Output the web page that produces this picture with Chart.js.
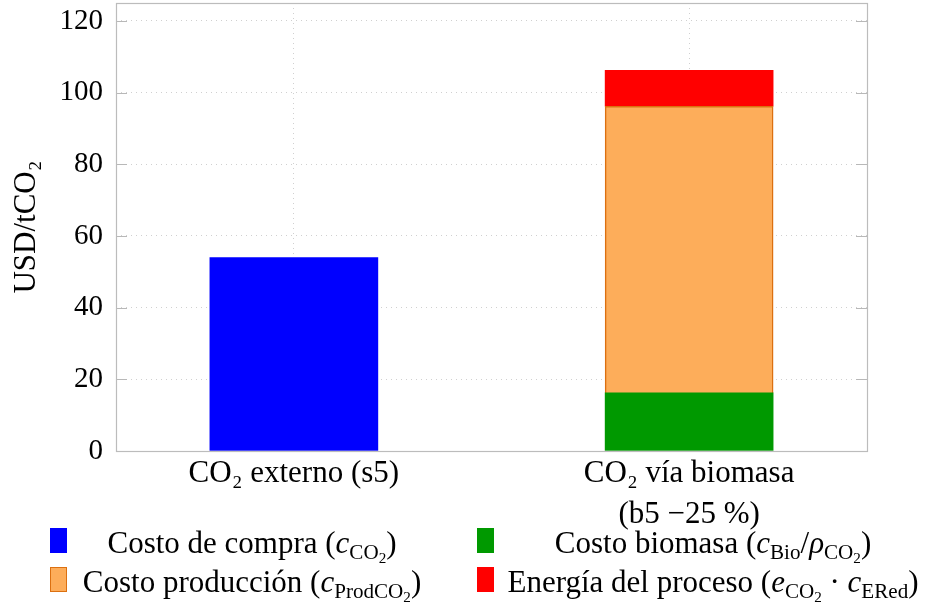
<!DOCTYPE html>
<html>
<head>
<meta charset="utf-8">
<script src="https://cdn.jsdelivr.net/npm/chart.js@4/dist/chart.umd.min.js"></script>
<style>
  html, body { margin: 0; padding: 0; background: #ffffff; }
  #wrap { position: relative; width: 930px; height: 610px; }
  #legend {
    position: absolute; left: 0; top: 525px; width: 930px;
    font-family: 'Liberation Serif', 'DejaVu Serif', serif; font-size: 31px; color: #000;
  }
  .item { position: absolute; left: 0; height: 36px; }
  .sw { position: absolute; top: 3px; width: 17px; height: 25px; box-sizing: border-box; }
  .txt { position: absolute; top: 0; text-align: center; white-space: nowrap; line-height: 36px; }
  .txt sub { font-size: 68%; vertical-align: -0.28em; line-height: 0; }
  .txt sub sub { font-size: 72%; vertical-align: -0.25em; }
</style>
</head>
<body>
<div id="wrap">
  <canvas id="chart" width="930" height="610"></canvas>
  <div id="legend"></div>
</div>
<script>
// Categories (x positions 0 and 1) and their tick labels
const categories = [["CO₂ externo (s5)"], ["CO₂ vía biomasa", "(b5 −25 %)"]];

// Cost components in USD/tCO2, one value per category (null = not present)
const compraValues     = [54, null];
const biomasaValues    = [null, 16.2];
const produccionValues = [null, 80];
const energiaValues    = [null, 10];

// Series names (plain for the dataset label, HTML for the legend)
const seriesNames = [
  "Costo de compra (cCO₂)",
  "Costo biomasa (cBio/ρCO₂)",
  "Costo producción (cProdCO₂)",
  "Energía del proceso (eCO₂ · cERed)"
];
const seriesLegendHtml = [
  "Costo de compra (<i>c</i><sub>CO<sub>2</sub></sub>)",
  "Costo biomasa (<i>c</i><sub>Bio</sub>/<i>ρ</i><sub>CO<sub>2</sub></sub>)",
  "Costo producción (<i>c</i><sub>ProdCO<sub>2</sub></sub>)",
  "Energía del proceso (<i>e</i><sub>CO<sub>2</sub></sub> · <i>c</i><sub>ERed</sub>)"
];

const yTicks = [0, 20, 40, 60, 80, 100, 120];

const FONT = "'Liberation Serif', 'DejaVu Serif', serif";

function toPoints(values) {
  return values.map((v, i) => (v === null ? null : { x: i, y: v })).filter(p => p !== null);
}

const datasets = [
  { label: seriesNames[0], data: toPoints(compraValues),
    backgroundColor: '#0000ff', borderColor: '#0000ff', borderWidth: 0 },
  { label: seriesNames[1], data: toPoints(biomasaValues),
    backgroundColor: '#009900', borderColor: '#00a000', borderWidth: 0 },
  { label: seriesNames[2], data: toPoints(produccionValues),
    backgroundColor: '#fdad5a', borderColor: '#dc7010', borderWidth: 1.5 },
  { label: seriesNames[3], data: toPoints(energiaValues),
    backgroundColor: '#ff0000', borderColor: '#ff3030', borderWidth: 0 }
];

// Axis frame with inward tick marks on the left and right sides
const framePlugin = {
  id: 'frame',
  afterDatasetsDraw(chart) {
    const { ctx, chartArea: a, scales } = chart;
    ctx.save();
    ctx.strokeStyle = '#b8b8b8';
    ctx.lineWidth = 1;
    ctx.setLineDash([]);
    yTicks.forEach(t => {
      const y = Math.round(scales.y.getPixelForValue(t)) + 0.5;
      ctx.beginPath();
      ctx.moveTo(a.left, y); ctx.lineTo(a.left + 11, y);
      ctx.moveTo(a.right, y); ctx.lineTo(a.right - 11, y);
      ctx.stroke();
    });
    ctx.strokeStyle = '#bcbcbc';
    ctx.lineWidth = 1.2;
    ctx.strokeRect(Math.round(a.left) + 0.5, Math.round(a.top) + 0.5,
                   Math.round(a.right - a.left), Math.round(a.bottom - a.top));
    ctx.restore();
  }
};

const chart = new Chart(document.getElementById('chart'), {
  type: 'bar',
  data: { datasets },
  options: {
    responsive: false,
    animation: false,
    layout: { padding: { top: 3, right: 63, left: 0, bottom: 0 } },
    plugins: { legend: { display: false }, tooltip: { enabled: false } },
    datasets: { bar: { barThickness: 168 } },
    scales: {
      x: {
        type: 'linear',
        stacked: true,
        offset: false,
        min: -0.45,
        max: 1.45,
        afterBuildTicks(scale) { scale.ticks = categories.map((c, i) => ({ value: i })); },
        afterFit(scale) {
          scale.height = 159;
          scale.paddingLeft = 0; scale.paddingRight = 0;
        },
        grid: { color: '#d0d0d0', lineWidth: 1, drawTicks: false, offset: false },
        border: { display: false, dash: [1, 4] },
        ticks: {
          padding: 2,
          color: '#000',
          maxRotation: 0,
          autoSkip: false,
          font: { family: FONT, size: 31, lineHeight: 1.33 },
          callback: (v) => categories[v]
        }
      },
      y: {
        stacked: true,
        min: 0,
        max: 125,
        afterBuildTicks(scale) { scale.ticks = yTicks.map(v => ({ value: v })); },
        afterFit(scale) {
          scale.width = 116;
          scale.paddingTop = 0; scale.paddingBottom = 0;
        },
        grid: { color: '#d0d0d0', lineWidth: 1, drawTicks: false },
        border: { display: false, dash: [1, 4] },
        ticks: {
          padding: 13,
          color: '#000',
          font: { family: FONT, size: 29 }
        },
        title: {
          display: true,
          text: 'USD/tCO₂',
          color: '#000',
          padding: { top: 8, bottom: 0 },
          font: { family: FONT, size: 31 }
        }
      }
    }
  },
  plugins: [framePlugin]
});

// Two-column legend under the plot, built from the datasets
const legendLayout = [
  { sw: 50,  txtLeft: 70,  txtWidth: 364, top: 0 },   // compra
  { sw: 477, txtLeft: 497, txtWidth: 432, top: 0 },   // biomasa
  { sw: 50,  txtLeft: 70,  txtWidth: 364, top: 39 },  // produccion
  { sw: 477, txtLeft: 497, txtWidth: 432, top: 39 }   // energia
];
const legendEl = document.getElementById('legend');
chart.data.datasets.forEach((ds, i) => {
  const L = legendLayout[i];
  const item = document.createElement('div');
  item.className = 'item';
  item.style.top = L.top + 'px';
  const sw = document.createElement('div');
  sw.className = 'sw';
  sw.style.left = L.sw + 'px';
  sw.style.background = ds.backgroundColor;
  if (ds.borderWidth > 0) sw.style.border = '1.5px solid ' + ds.borderColor;
  const tx = document.createElement('div');
  tx.className = 'txt';
  tx.style.left = L.txtLeft + 'px';
  tx.style.width = L.txtWidth + 'px';
  tx.innerHTML = seriesLegendHtml[i];
  item.appendChild(sw);
  item.appendChild(tx);
  legendEl.appendChild(item);
});
</script>
</body>
</html>
